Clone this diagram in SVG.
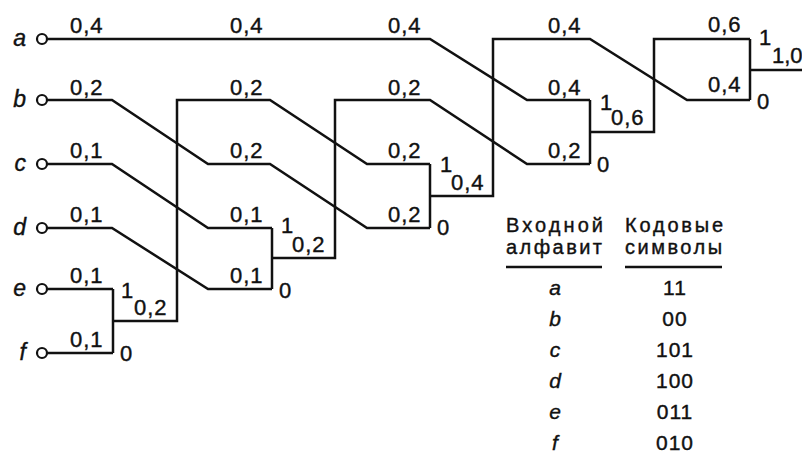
<svg xmlns="http://www.w3.org/2000/svg" width="802" height="456" viewBox="0 0 802 456">
<style>
  .w { fill: none; stroke: #111; stroke-width: 2.5; stroke-linejoin: miter; }
  .pin { fill: #fff; stroke: #111; stroke-width: 2.2; }
  text { font-family: "Liberation Sans", Arial, sans-serif; fill: #111; stroke: #111; stroke-width: 0.4; }
  .lbl { font-size: 22px; letter-spacing: 1px; }
  .bit { font-size: 22px; }
  .sym { font-size: 23px; font-style: italic; text-anchor: end; }
  .hd { font-size: 20px; }
  .tl { font-size: 21px; font-style: italic; text-anchor: middle; }
  .tc { font-size: 21px; text-anchor: middle; letter-spacing: 1px; }
  .ul { stroke: #111; stroke-width: 2.5; }
</style>
<rect width="802" height="456" fill="#fff"/>

<g id="connectors">
  <path class="w" d="M47,39 H430 L527,100 H590"/>
  <path class="w" d="M47,100 H112 L208,164 H270 L367,228 H430"/>
  <path class="w" d="M47,164 H112 L208,228 H272"/>
  <path class="w" d="M47,228 H112 L208,289 H272"/>
  <path class="w" d="M47,289 H113"/>
  <path class="w" d="M47,353 H113"/>
  <path class="w" d="M113,289 V353 M113,321 H177 V100 H270 L367,164 H430"/>
  <path class="w" d="M272,228 V289 M272,258 H335 V100 H430 L527,164 H590"/>
  <path class="w" d="M430,164 V228 M430,196 H493 V39 H590 L687,100 H750"/>
  <path class="w" d="M590,100 V164 M590,132 H654 V39 H750"/>
  <path class="w" d="M750,39 V100 M750,70 H802"/>
</g>

<g id="node-a"><circle class="pin" cx="42" cy="39" r="5"/><text class="sym" x="26" y="46">a</text></g>
<g id="node-b"><circle class="pin" cx="42" cy="100" r="5"/><text class="sym" x="26" y="107">b</text></g>
<g id="node-c"><circle class="pin" cx="42" cy="164" r="5"/><text class="sym" x="26" y="171">c</text></g>
<g id="node-d"><circle class="pin" cx="42" cy="228" r="5"/><text class="sym" x="26" y="235">d</text></g>
<g id="node-e"><circle class="pin" cx="42" cy="289" r="5"/><text class="sym" x="26" y="296">e</text></g>
<g id="node-f"><circle class="pin" cx="42" cy="353" r="5"/><text class="sym" x="26" y="360">f</text></g>

<g id="weights">
  <text class="lbl" x="70" y="33">0,4</text>
  <text class="lbl" x="70" y="95">0,2</text>
  <text class="lbl" x="70" y="158">0,1</text>
  <text class="lbl" x="70" y="222">0,1</text>
  <text class="lbl" x="70" y="283">0,1</text>
  <text class="lbl" x="70" y="347">0,1</text>

  <text class="lbl" x="230" y="33">0,4</text>
  <text class="lbl" x="230" y="95">0,2</text>
  <text class="lbl" x="230" y="158">0,2</text>
  <text class="lbl" x="230" y="222">0,1</text>
  <text class="lbl" x="230" y="283">0,1</text>

  <text class="lbl" x="388" y="33">0,4</text>
  <text class="lbl" x="388" y="95">0,2</text>
  <text class="lbl" x="388" y="158">0,2</text>
  <text class="lbl" x="388" y="222">0,2</text>

  <text class="lbl" x="548" y="33">0,4</text>
  <text class="lbl" x="548" y="95">0,4</text>
  <text class="lbl" x="548" y="158">0,2</text>

  <text class="lbl" x="708" y="32">0,6</text>
  <text class="lbl" x="708" y="92">0,4</text>
</g>

<g id="merge-ef">
  <text class="bit" x="121" y="298">1</text>
  <text class="lbl" x="134" y="315">0,2</text>
  <text class="bit" x="120" y="361">0</text>
</g>
<g id="merge-cd">
  <text class="bit" x="281" y="233">1</text>
  <text class="lbl" x="292" y="252">0,2</text>
  <text class="bit" x="279" y="298">0</text>
</g>
<g id="merge-efb">
  <text class="bit" x="440" y="172">1</text>
  <text class="lbl" x="451" y="190">0,4</text>
  <text class="bit" x="437" y="235">0</text>
</g>
<g id="merge-acd">
  <text class="bit" x="600" y="110">1</text>
  <text class="lbl" x="611" y="125">0,6</text>
  <text class="bit" x="597" y="172">0</text>
</g>
<g id="merge-root">
  <text class="bit" x="759" y="45">1</text>
  <text class="bit" x="772" y="63" font-size="21">1,0</text>
  <text class="bit" x="757" y="109">0</text>
</g>

<g id="code-table">
  <text class="hd" x="506" y="232" textLength="97" lengthAdjust="spacing">Входной</text>
  <text class="hd" x="506" y="254" textLength="96" lengthAdjust="spacing">алфавит</text>
  <text class="hd" x="625" y="232" textLength="98" lengthAdjust="spacing">Кодовые</text>
  <text class="hd" x="625" y="254" textLength="97" lengthAdjust="spacing">символы</text>
  <line class="ul" x1="506" y1="267" x2="602" y2="267"/>
  <line class="ul" x1="625" y1="267" x2="722" y2="267"/>
  <text class="tl" x="555" y="295">a</text><text class="tc" x="675" y="295">11</text>
  <text class="tl" x="555" y="326">b</text><text class="tc" x="675" y="326">00</text>
  <text class="tl" x="555" y="357">c</text><text class="tc" x="675" y="357">101</text>
  <text class="tl" x="555" y="388">d</text><text class="tc" x="675" y="388">100</text>
  <text class="tl" x="555" y="419">e</text><text class="tc" x="675" y="419">011</text>
  <text class="tl" x="555" y="450">f</text><text class="tc" x="675" y="450">010</text>
</g>
</svg>
